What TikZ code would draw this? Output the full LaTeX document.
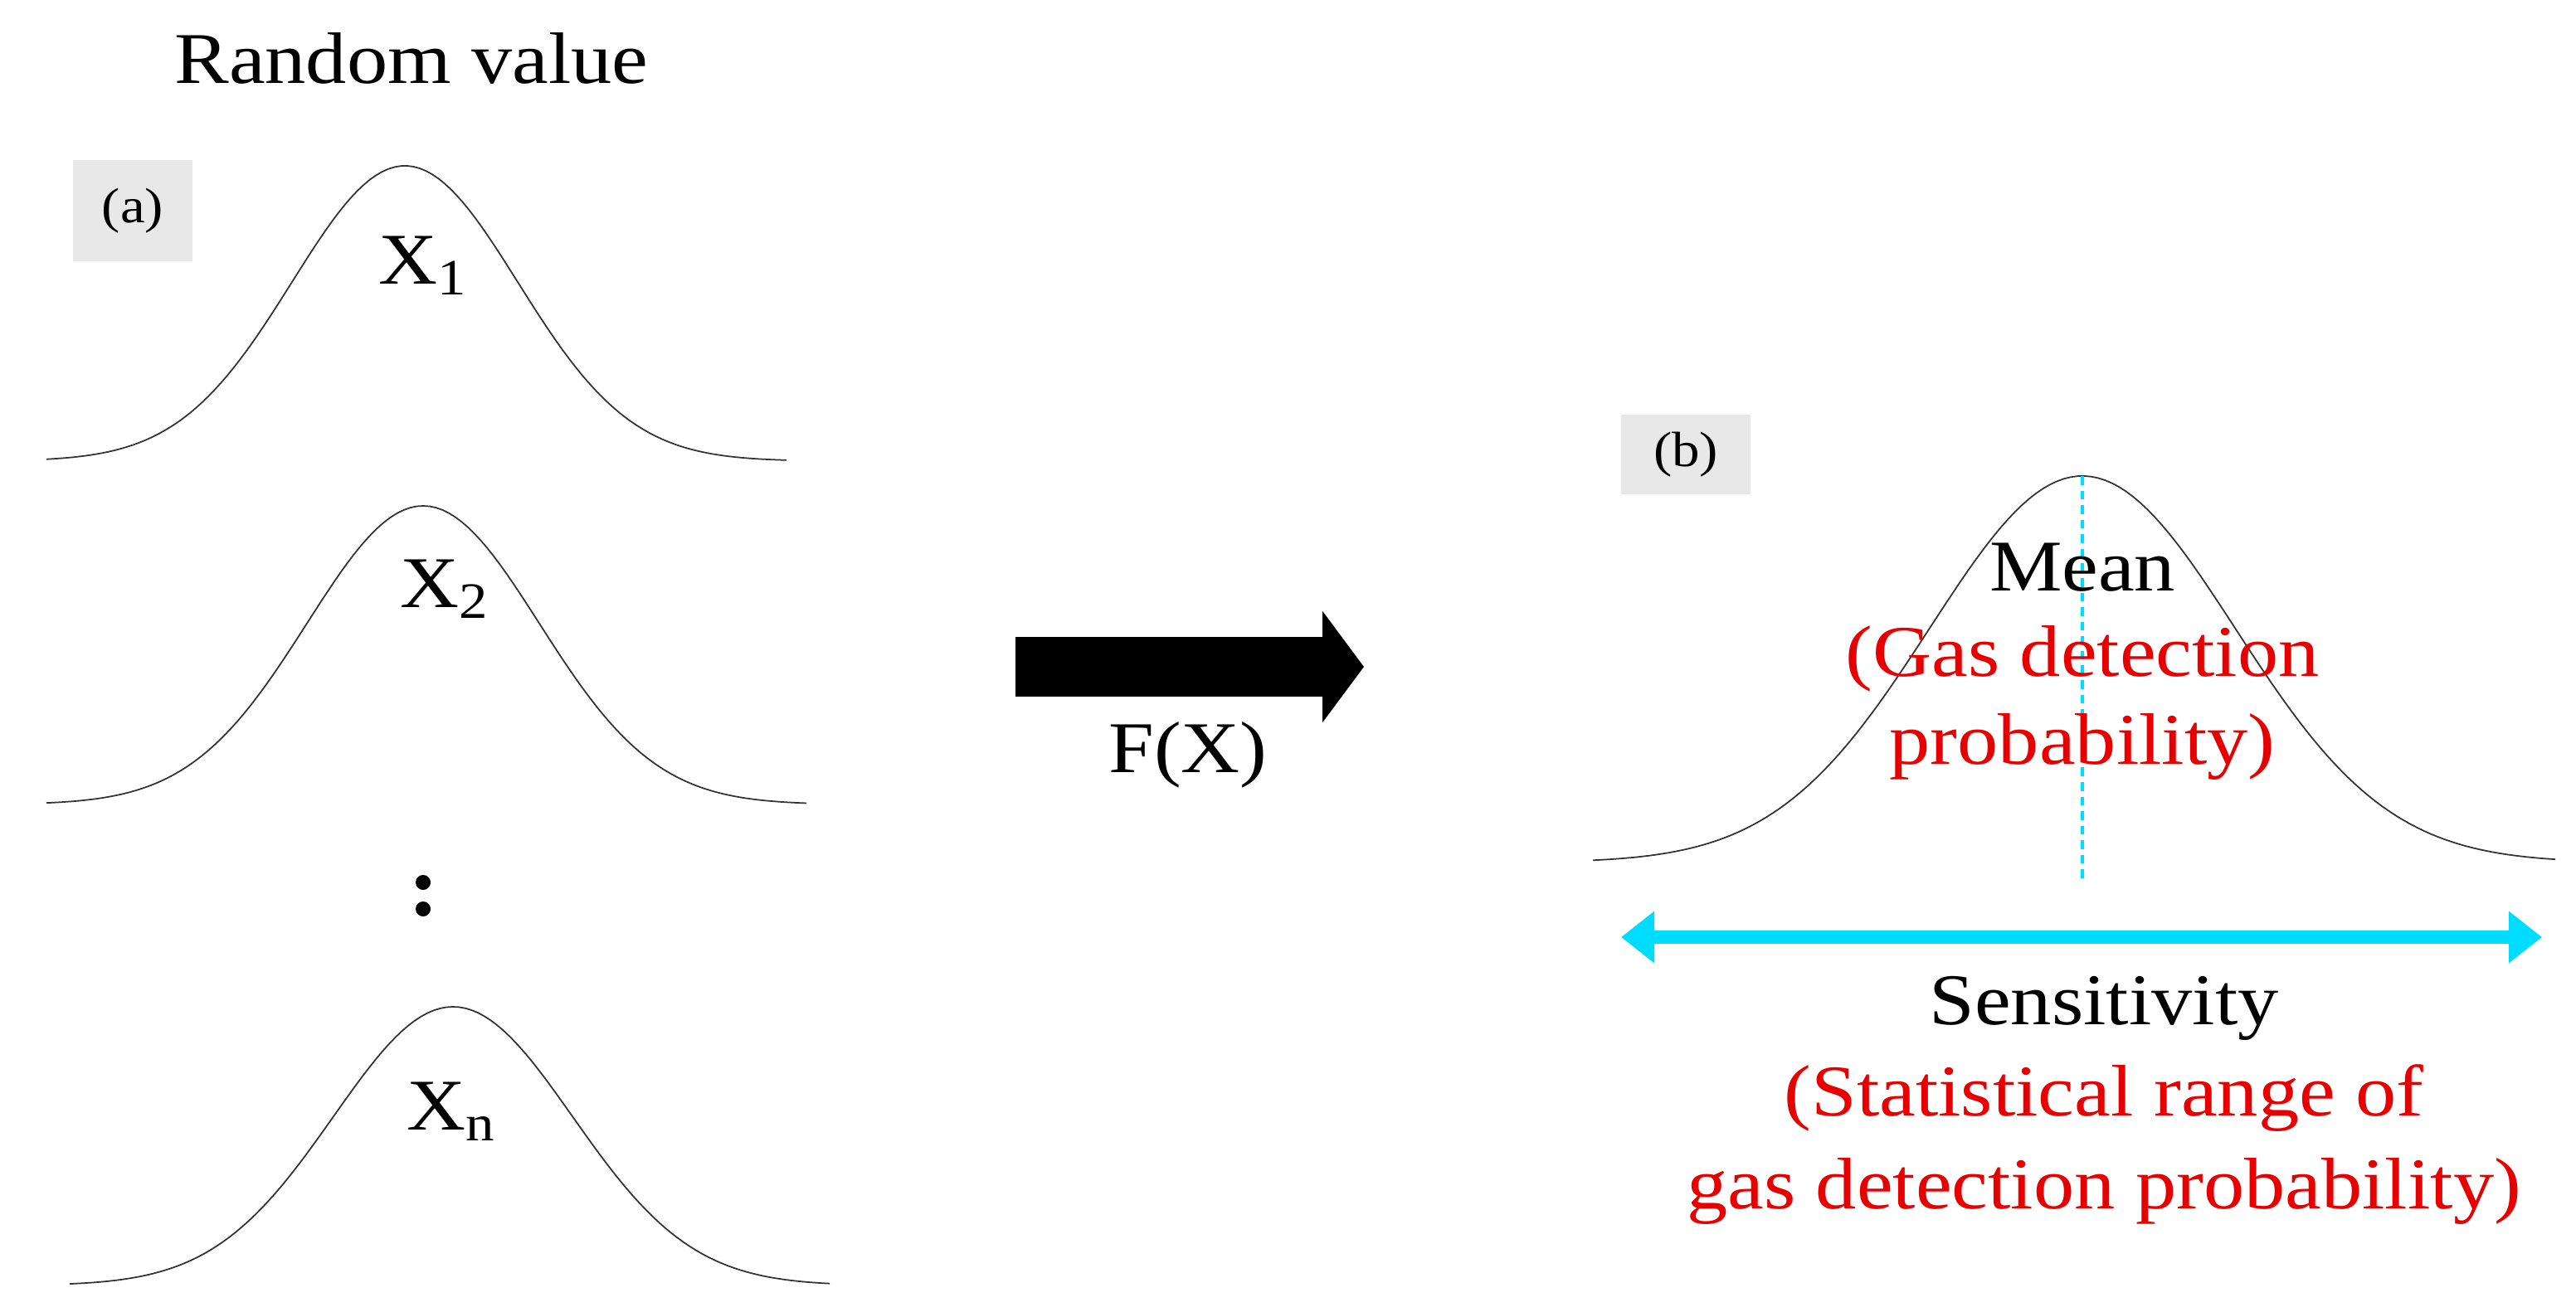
\documentclass[tikz,border=0pt]{standalone}
\usepackage{fontspec}
\setmainfont[FakeStretch=1.12]{Liberation Serif}
\usetikzlibrary{arrows.meta}
\definecolor{cy}{RGB}{0,220,255}
\definecolor{lab}{RGB}{232,232,232}
\definecolor{rd}{RGB}{230,0,0}
\begin{document}
\begin{tikzpicture}[x=0.2mm,y=-0.2mm,
  txt/.style={font=\fontsize{25}{30}\selectfont, inner sep=0pt},
  rtxt/.style={txt, text=rd},
  labbox/.style={fill=lab, font=\fontsize{17}{20}\selectfont, minimum width=15mm, minimum height=11mm, inner sep=0pt},
  bell/.style={draw=black!80, line width=0.5pt}]
\useasboundingbox (0,0) rectangle (1552.5,790.5);
\draw[bell] plot[domain=28:474,samples=120] (\x,{278-178*exp(-((\x-244)/68)^2/2)});
\draw[bell] plot[domain=28:486,samples=120] (\x,{485-180*exp(-((\x-255)/70)^2/2)});
\draw[bell] plot[domain=42:500,samples=120] (\x,{775-168*exp(-((\x-273)/72)^2/2)});
\draw[bell] plot[domain=960:1540,samples=140] (\x,{520-233*exp(-((\x-1255)/92)^2/2)});
\node[txt] (rv) at (248,35) {Random value};
\node[labbox, minimum width=14.4mm, minimum height=12.2mm] (a) at (80,127) {(a)};
\node[txt] (x1) at (255,160) {X\textsubscript{1}};
\node[txt] (x2) at (268,355) {X\textsubscript{2}};
\fill (255,532) circle (4.5);
\fill (255,548) circle (4.5);
\node[txt] (xn) at (272,670) {X\textsubscript{n}};
\coordinate (as) at (612,402);
\coordinate (ae) at (822,402);
\draw[line width=7.2mm, -{Triangle[length=5mm,width=13.2mm]}] (as) -- (ae);
\node[txt] (fx) at (716,455) {F(X)};
\node[labbox, minimum width=15.6mm, minimum height=9.6mm] (b) at (1016,274) {(b)};
\coordinate (mt) at (1255,287);
\coordinate (mb) at (1255,530);
\draw[cy, dash pattern=on 3pt off 2pt, line width=1pt] (mt) -- (mb);
\node[txt] (mean) at (1255,342) {Mean};
\node[rtxt] (g1) at (1255,397) {(Gas detection};
\node[rtxt] (g2) at (1255,450) {probability)};
\coordinate (sl) at (977,565);
\coordinate (sr) at (1532,565);
\draw[cy, line width=1.6mm, {Triangle[length=4mm,width=6mm]}-{Triangle[length=4mm,width=6mm]}] (sl) -- (sr);
\node[txt] (sens) at (1268,608) {Sensitivity};
\node[rtxt] (s1) at (1268,662) {(Statistical range of};
\node[rtxt] (s2) at (1268,718) {gas detection probability)};
\end{tikzpicture}
\end{document}
